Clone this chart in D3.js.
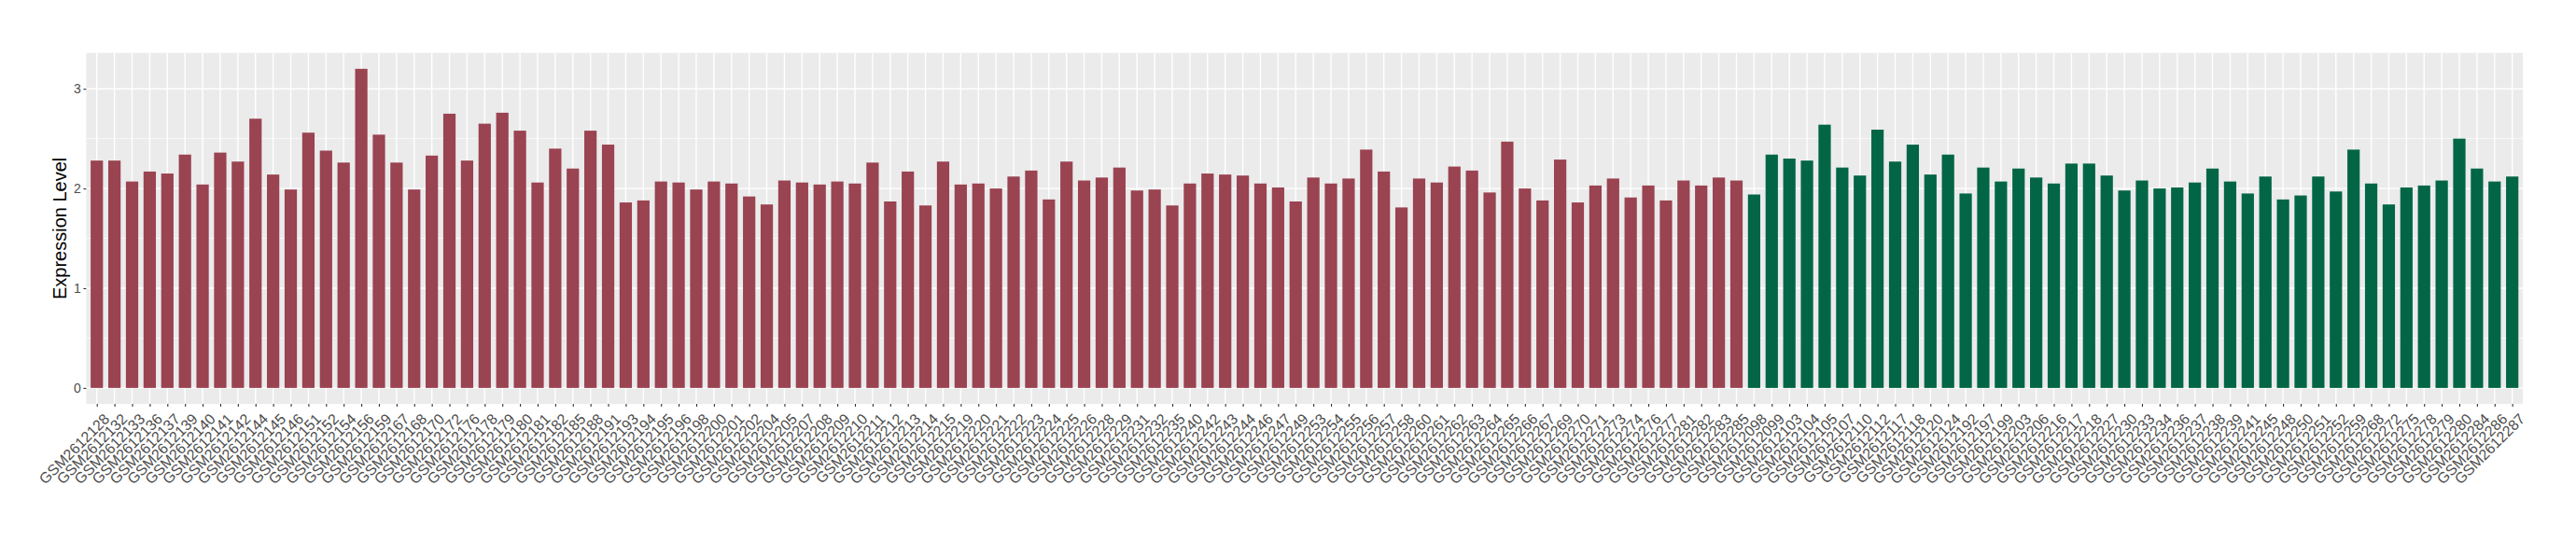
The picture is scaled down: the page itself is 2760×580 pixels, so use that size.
<!DOCTYPE html>
<html>
<head>
<meta charset="utf-8">
<script src="https://cdn.jsdelivr.net/npm/d3@7/dist/d3.min.js"></script>
<style>
  html, body { margin: 0; padding: 0; background: #ffffff; }
  svg { display: block; }
  text { font-family: "Liberation Sans", Arial, Helvetica, sans-serif; }
</style>
</head>
<body>
<svg id="chart" width="2760" height="580"></svg>
<script>
// ---- data ----
const groupASamples = [
  "GSM2612128","GSM2612132","GSM2612133","GSM2612136","GSM2612137","GSM2612139","GSM2612140","GSM2612141","GSM2612142","GSM2612144",
  "GSM2612145","GSM2612146","GSM2612151","GSM2612152","GSM2612154","GSM2612156","GSM2612159","GSM2612167","GSM2612168","GSM2612170",
  "GSM2612172","GSM2612176","GSM2612178","GSM2612179","GSM2612180","GSM2612181","GSM2612182","GSM2612185","GSM2612188","GSM2612191",
  "GSM2612193","GSM2612194","GSM2612195","GSM2612196","GSM2612198","GSM2612200","GSM2612201","GSM2612202","GSM2612204","GSM2612205",
  "GSM2612207","GSM2612208","GSM2612209","GSM2612210","GSM2612211","GSM2612212","GSM2612213","GSM2612214","GSM2612215","GSM2612219",
  "GSM2612220","GSM2612221","GSM2612222","GSM2612223","GSM2612224","GSM2612225","GSM2612226","GSM2612228","GSM2612229","GSM2612231",
  "GSM2612232","GSM2612235","GSM2612240","GSM2612242","GSM2612243","GSM2612244","GSM2612246","GSM2612247","GSM2612249","GSM2612253",
  "GSM2612254","GSM2612255","GSM2612256","GSM2612257","GSM2612258","GSM2612260","GSM2612261","GSM2612262","GSM2612263","GSM2612264",
  "GSM2612265","GSM2612266","GSM2612267","GSM2612269","GSM2612270","GSM2612271","GSM2612273","GSM2612274","GSM2612276","GSM2612277",
  "GSM2612281","GSM2612282","GSM2612283","GSM2612285"
];
const groupAValues = [
  2.28,2.28,2.07,2.17,2.15,2.34,2.04,2.36,2.27,2.70,
  2.14,1.99,2.56,2.38,2.26,3.20,2.54,2.26,1.99,2.33,
  2.75,2.28,2.65,2.76,2.58,2.06,2.40,2.20,2.58,2.44,
  1.86,1.88,2.07,2.06,1.99,2.07,2.05,1.92,1.84,2.08,
  2.06,2.04,2.07,2.05,2.26,1.87,2.17,1.83,2.27,2.04,
  2.05,2.00,2.12,2.18,1.89,2.27,2.08,2.11,2.21,1.98,
  1.99,1.83,2.05,2.15,2.14,2.13,2.05,2.01,1.87,2.11,
  2.05,2.10,2.39,2.17,1.81,2.10,2.06,2.22,2.18,1.96,
  2.47,2.00,1.88,2.29,1.86,2.03,2.10,1.91,2.03,1.88,
  2.08,2.03,2.11,2.08
];
const groupBSamples = [
  "GSM2612098","GSM2612099","GSM2612103","GSM2612104","GSM2612105","GSM2612107","GSM2612110","GSM2612112","GSM2612117","GSM2612118",
  "GSM2612120","GSM2612124","GSM2612192","GSM2612197","GSM2612199","GSM2612203","GSM2612206","GSM2612216","GSM2612217","GSM2612218",
  "GSM2612227","GSM2612230","GSM2612233","GSM2612234","GSM2612236","GSM2612237","GSM2612238","GSM2612239","GSM2612241","GSM2612245",
  "GSM2612248","GSM2612250","GSM2612251","GSM2612252","GSM2612259","GSM2612268","GSM2612272","GSM2612275","GSM2612278","GSM2612279",
  "GSM2612280","GSM2612284","GSM2612286","GSM2612287"
];
const groupBValues = [
  1.94,2.34,2.30,2.28,2.64,2.21,2.13,2.59,2.27,2.44,
  2.14,2.34,1.95,2.21,2.07,2.20,2.11,2.05,2.25,2.25,
  2.13,1.98,2.08,2.00,2.01,2.06,2.20,2.07,1.95,2.12,
  1.89,1.93,2.12,1.97,2.39,2.05,1.84,2.01,2.03,2.08,
  2.50,2.20,2.07,2.12
];
const yTicks = [0, 1, 2, 3];
const yMinorTicks = [0.5, 1.5, 2.5];
const yTitle = "Expression Level";
const groupColors = { A: "#9A4351", B: "#026646" };

// ---- build rows ----
const rows = groupASamples.map((s, i) => ({ sample: s, value: groupAValues[i], group: "A" }))
  .concat(groupBSamples.map((s, i) => ({ sample: s, value: groupBValues[i], group: "B" })));

// ---- layout ----
const svg = d3.select("#chart");
const panel = { left: 92.4, right: 2703, top: 56.7, bottom: 433 };

const x = d3.scalePoint()
  .domain(rows.map(d => d.sample))
  .range([panel.left, panel.right])
  .padding(0.6);
const step = x.step();
const barW = step * 0.7;

const maxV = d3.max(rows, d => d.value);
const y = d3.scaleLinear()
  .domain([-0.05 * maxV, maxV * 1.05])
  .range([panel.bottom, panel.top]);

// panel background
svg.append("rect")
  .attr("x", panel.left).attr("y", panel.top)
  .attr("width", panel.right - panel.left)
  .attr("height", panel.bottom - panel.top)
  .attr("fill", "#EBEBEB");

// minor horizontal gridlines
svg.append("g").selectAll("line").data(yMinorTicks).join("line")
  .attr("x1", panel.left).attr("x2", panel.right)
  .attr("y1", d => y(d)).attr("y2", d => y(d))
  .attr("stroke", "#ffffff").attr("stroke-width", 0.7);

// major horizontal gridlines
svg.append("g").selectAll("line").data(yTicks).join("line")
  .attr("x1", panel.left).attr("x2", panel.right)
  .attr("y1", d => y(d)).attr("y2", d => y(d))
  .attr("stroke", "#ffffff").attr("stroke-width", 1.4);

// vertical gridlines
svg.append("g").selectAll("line").data(rows).join("line")
  .attr("x1", d => x(d.sample)).attr("x2", d => x(d.sample))
  .attr("y1", panel.top).attr("y2", panel.bottom)
  .attr("stroke", "#ffffff").attr("stroke-width", 1.4);

// bars
svg.append("g").selectAll("rect").data(rows).join("rect")
  .attr("x", d => x(d.sample) - barW / 2)
  .attr("width", barW)
  .attr("y", d => y(d.value))
  .attr("height", d => y(0) - y(d.value))
  .attr("fill", d => groupColors[d.group]);

// y axis
const yAxis = d3.axisLeft(y).tickValues(yTicks).tickSize(3).tickPadding(2.5).tickFormat(d3.format("d"));
const yg = svg.append("g").attr("transform", `translate(${panel.left},0)`).call(yAxis);
yg.select(".domain").remove();
yg.selectAll(".tick line").attr("stroke", "#333333").attr("stroke-width", 1.1);
yg.selectAll(".tick text").attr("fill", "#4D4D4D").style("font-size", "14px")
  .style("font-family", "'Liberation Sans', Arial, sans-serif");

// x axis
const xAxis = d3.axisBottom(x).tickSize(3).tickPadding(0);
const xg = svg.append("g").attr("transform", `translate(0,${panel.bottom})`).call(xAxis);
xg.select(".domain").remove();
xg.selectAll(".tick line").attr("stroke", "#333333").attr("stroke-width", 1.1);
xg.selectAll(".tick text")
  .attr("fill", "#4D4D4D")
  .style("font-size", "16px")
  .style("font-family", "'Liberation Sans', Arial, sans-serif")
  .attr("text-anchor", "end")
  .attr("x", null).attr("y", null).attr("dy", "0.72em")
  .attr("transform", "translate(6,9) rotate(-45)");

// y title
svg.append("text")
  .attr("transform", `translate(71,${(panel.top + panel.bottom) / 2}) rotate(-90)`)
  .attr("text-anchor", "middle")
  .attr("fill", "#000000")
  .style("font-size", "20px")
  .text(yTitle);
</script>
</body>
</html>
